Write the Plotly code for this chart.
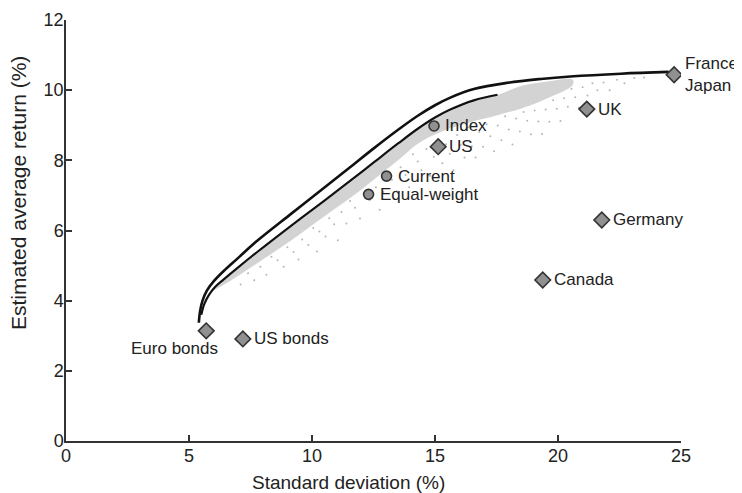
import plotly.graph_objects as go

# --- data ---
frontier_x = [5.40, 5.45, 5.55, 5.72, 6.00, 6.40, 7.00, 7.76, 9.12, 10.48, 11.56, 12.51, 13.50,
              14.30, 15.00, 15.60, 16.58, 17.94, 19.30, 20.50, 22.56, 24.50]
frontier_y = [3.37, 3.70, 4.00, 4.28, 4.55, 4.84, 5.22, 5.70, 6.46, 7.21, 7.81, 8.34, 8.87,
              9.27, 9.57, 9.78, 10.03, 10.21, 10.32, 10.39, 10.47, 10.52]

resampled_x = [5.50, 5.62, 5.80, 6.05, 6.40, 7.00, 7.76, 9.12, 10.48, 11.56, 12.51, 13.50,
               14.30, 15.00, 15.60, 16.58, 17.54]
resampled_y = [3.60, 3.90, 4.15, 4.38, 4.60, 4.95, 5.38, 6.12, 6.84, 7.42, 7.94, 8.48,
               8.90, 9.22, 9.44, 9.71, 9.87]

band_upper_x = [6.00, 6.40, 7.00, 7.76, 9.12, 10.48, 11.56, 12.51, 13.50, 14.30, 15.00, 15.60,
                16.58, 17.54, 18.50, 19.50, 20.60]
band_upper_y = [4.30, 4.56, 4.91, 5.34, 6.08, 6.80, 7.38, 7.90, 8.44, 8.86, 9.18, 9.40,
                9.67, 9.86, 10.12, 10.24, 10.30]
band_lower_x = [20.60, 19.50, 18.60, 17.50, 16.60, 15.20, 14.30, 13.50, 12.51, 11.56, 10.48,
                9.12, 7.76, 6.80, 6.00]
band_lower_y = [10.15, 9.75, 9.50, 9.28, 9.12, 8.80, 8.47, 8.00, 7.45, 6.93, 6.39,
                5.70, 5.06, 4.62, 4.30]

# sparse stipple of resampled portfolios below the dense band
dots_x = [7.10, 7.40, 7.65, 7.90, 8.15, 8.35, 8.60, 8.85, 9.00, 9.25, 9.45, 9.60, 9.85, 10.05,
          10.20, 10.30, 10.55, 10.70, 10.90, 11.05, 11.20, 11.40, 11.55, 11.75, 11.95, 12.10,
          12.35, 12.60, 12.75, 12.90, 13.10, 13.25, 13.45, 13.60, 13.80, 13.95, 14.10, 14.30,
          14.45, 14.65, 14.80, 14.95, 15.10, 15.30, 15.45, 15.60, 15.75, 15.90, 16.05, 16.20,
          16.35, 16.50, 16.65, 16.80, 16.95, 17.10, 17.25, 17.40, 17.55, 17.70, 17.85, 18.00,
          18.15, 18.30, 18.45, 18.60, 18.75, 18.90, 19.05, 19.20, 19.35, 19.50, 19.65, 19.80,
          19.95, 20.10, 20.25, 20.40, 20.55, 20.70, 20.85, 21.00, 21.20, 21.40, 21.60, 21.85,
          22.10, 22.40, 22.70, 23.10, 23.50]
dots_y = [4.46, 4.78, 4.58, 4.97, 4.74, 5.25, 5.15, 4.97, 5.52, 5.39, 5.17, 5.74, 5.59, 6.07,
          5.40, 5.97, 5.83, 6.35, 6.18, 5.72, 6.53, 6.20, 6.84, 6.65, 6.34, 7.05, 6.87, 7.23,
          6.59, 7.10, 7.66, 7.45, 7.12, 7.80, 7.58, 7.23, 8.17, 7.97, 7.72, 8.32, 7.56, 8.10,
          8.58, 7.92, 8.46, 8.19, 7.72, 8.72, 8.44, 8.08, 8.94, 8.40, 8.08, 8.81, 8.39, 9.03,
          8.69, 8.26, 8.99, 8.57, 9.26, 8.88, 8.45, 9.19, 8.82, 9.38, 9.13, 8.74, 9.42, 9.11,
          8.75, 9.45, 9.10, 9.71, 9.47, 9.12, 9.77, 9.53, 10.04, 9.80, 9.50, 10.08, 9.85, 10.20,
          10.00, 10.22, 10.00, 10.30, 10.20, 10.35, 10.36]

countries = ["France<br>Japan", "UK", "Germany", "Canada", "US", "US bonds"]
country_x = [24.72, 21.17, 21.78, 19.38, 15.13, 7.19]
country_y = [10.44, 9.46, 6.30, 4.59, 8.39, 2.91]

euro_label = "Euro bonds"
euro_x = [5.70]
euro_y = [3.14]

portfolios = ["Index", "Current", "Equal-weight"]
portfolio_x = [14.96, 13.03, 12.30]
portfolio_y = [8.98, 7.55, 7.03]

FONT = "Liberation Sans, Arial, sans-serif"
INK = "#222222"

fig = go.Figure()

# dense grey band of resampled portfolios
fig.add_trace(go.Scatter(
    x=band_upper_x + band_lower_x, y=band_upper_y + band_lower_y,
    fill="toself", fillcolor="#d3d3d3", mode="lines", line=dict(width=0, shape="spline"),
    hoverinfo="skip", showlegend=False,
))
fig.add_trace(go.Scatter(
    x=dots_x, y=dots_y, mode="markers",
    marker=dict(size=2, color="#b5b5b5"), hoverinfo="skip", showlegend=False,
))

# efficient frontiers
fig.add_trace(go.Scatter(x=frontier_x, y=frontier_y, mode="lines",
                         line=dict(color="#111", width=2.6, shape="spline"), showlegend=False))
fig.add_trace(go.Scatter(x=resampled_x, y=resampled_y, mode="lines",
                         line=dict(color="#111", width=2.2, shape="spline"), showlegend=False))

# asset classes and portfolios
fig.add_trace(go.Scatter(
    x=country_x + euro_x, y=country_y + euro_y, mode="markers",
    marker=dict(symbol="diamond", size=12, color="#909090", line=dict(color="#333", width=1.6)),
    showlegend=False,
))
fig.add_trace(go.Scatter(
    x=portfolio_x, y=portfolio_y, mode="markers",
    marker=dict(symbol="circle", size=10, color="#909090", line=dict(color="#333", width=1.6)),
    showlegend=False,
))

for name, x, y in zip(countries + portfolios, country_x + portfolio_x, country_y + portfolio_y):
    fig.add_annotation(x=x, y=y, text=name, showarrow=False, xanchor="left", yanchor="middle",
                       xshift=9, align="left", font=dict(size=17, color=INK, family=FONT))
fig.add_annotation(x=euro_x[0], y=euro_y[0], text=euro_label, showarrow=False, xanchor="right",
                   yanchor="middle", xshift=14, yshift=-18, font=dict(size=17, color=INK, family=FONT))

# axis titles (offset from the axis centres, as in the original)
fig.add_annotation(x=11.5, y=-0.0974, xref="x", yref="paper", text="Standard deviation (%)", showarrow=False,
                   xanchor="center", yanchor="middle", font=dict(size=19, color=INK, family=FONT))
fig.add_annotation(x=-0.0764, y=7.07, xref="paper", yref="y", text="Estimated average return (%)",
                   showarrow=False, textangle=-90, xanchor="center", yanchor="middle",
                   font=dict(size=21, color=INK, family=FONT))

axis_style = dict(showline=True, linecolor="#333", linewidth=1.5, ticks="inside", ticklen=6, tickwidth=1.5,
                  tickcolor="#333", showgrid=False, zeroline=False, automargin=False,
                  tickfont=dict(size=18, color=INK, family=FONT))
fig.update_xaxes(range=[0, 25], tickvals=[0, 5, 10, 15, 20, 25], ticklabelstandoff=-2, **axis_style)
fig.update_yaxes(range=[0, 12], tickvals=[0, 2, 4, 6, 8, 10, 12], ticklabelstandoff=-3, **axis_style)

# page body has an 8px margin, so the figure is sized to sit where the original does
fig.update_layout(width=734, height=485, margin=dict(l=58, r=61, t=12, b=52),
                  plot_bgcolor="white", paper_bgcolor="white")

fig.write_html("out.html")
